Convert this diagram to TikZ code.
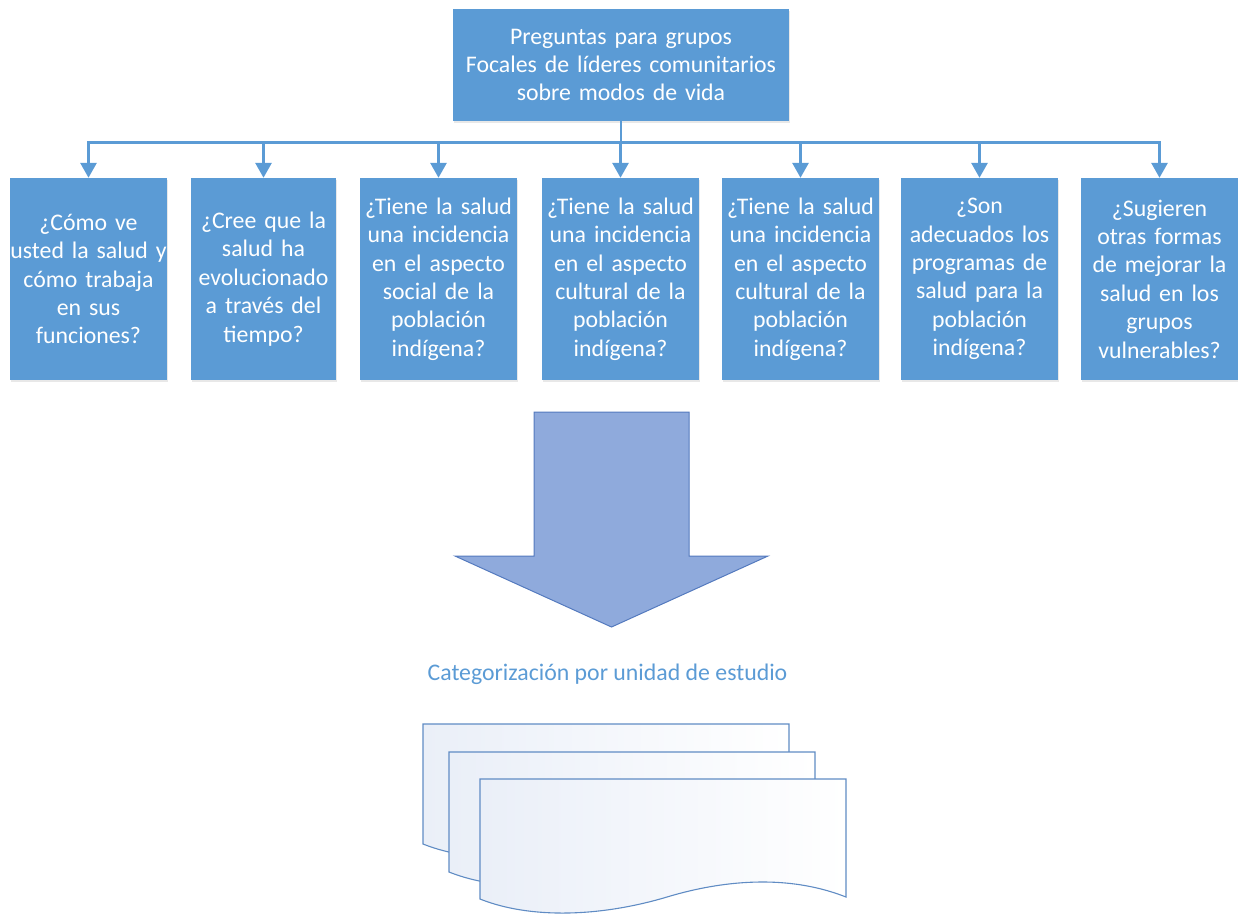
\documentclass[tikz,border=0pt]{standalone}
\usepackage{fontspec}
\setmainfont{Carlito}
\usetikzlibrary{arrows.meta,shadows}

\definecolor{qblue}{RGB}{91,155,213}
\definecolor{arrowfill}{RGB}{143,170,220}
\definecolor{arrowedge}{RGB}{84,122,190}
\definecolor{docedge}{RGB}{96,140,196}
\definecolor{doctint}{RGB}{234,239,248}

\newcommand\qsize{\fontsize{23.8}{28.4}\selectfont}

% one sheet of the stacked document symbol, top-left corner at (#1,#2)
\newcommand\docsheet[2]{%
  \begin{scope}[shift={(#1,#2)}]
    \draw[sheet] (0,0) -- (366,0) -- (366,118)
      .. controls (300,92) and (230,105) .. (187,118)
      .. controls (120,138) and (50,140) .. (0,120) -- cycle;
  \end{scope}}

\tikzset{
  qbox/.style={fill=qblue, text=white, inner sep=0pt, align=center,
    font=\qsize, text width=157pt, minimum height=202pt,
    drop shadow={shadow xshift=1pt, shadow yshift=-2pt, opacity=0.2, fill=black!45}},
  headbox/.style={qbox, text width=336pt, minimum height=112pt},
  conn/.style={draw=qblue, line width=2.9pt,
    -{Triangle[width=16pt,length=15pt]}},
  sheet/.style={draw=docedge, line width=1.1pt, left color=doctint, right color=white},
}

\begin{document}
\begin{tikzpicture}[x=1pt,y=-1pt]
\useasboundingbox (0,0) rectangle (1238,914);

% question boxes
\node[headbox] (top) at (621,65) {Preguntas para grupos\\Focales de líderes comunitarios\\sobre modos de vida};

\node[qbox] (b1) at (88.5,279) {¿Cómo ve\\usted la salud y\\cómo trabaja\\en sus\\funciones?};
\node[qbox, text width=145pt] (b2) at (263.5,279) {¿Cree que la\\salud ha\\evolucionado\\a través del\\tiempo?};
\node[qbox] (b3) at (438.5,279) {¿Tiene la salud\\una incidencia\\en el aspecto\\social de la\\población\\indígena?};
\node[qbox] (b4) at (620.5,279) {¿Tiene la salud\\una incidencia\\en el aspecto\\cultural de la\\población\\indígena?};
\node[qbox] (b5) at (800.5,279) {¿Tiene la salud\\una incidencia\\en el aspecto\\cultural de la\\población\\indígena?};
\node[qbox] (b6) at (979.5,279) {¿Son\\adecuados los\\programas de\\salud para la\\población\\indígena?};
\node[qbox] (b7) at (1159.5,279) {¿Sugieren\\otras formas\\de mejorar la\\salud en los\\grupos\\vulnerables?};

% branching connectors
\foreach \b in {b1,b2,b3,b4,b5,b6,b7}
  \draw[conn] (top.south) -- ++(0,21.7) -| (\b.north);

% large downward block arrow
\draw[fill=arrowfill, draw=arrowedge, line width=1pt, line join=miter]
  (534,412) -- (689,412) -- (689,556) -- (768,556) -- (611.5,627)
  -- (455,556) -- (534,556) -- cycle;

% caption
\node[anchor=base, text=qblue, font=\qsize, inner sep=0pt] (cap) at (607.5,680)
  {Categorización por unidad de estudio};

% stacked documents
\docsheet{423}{724}
\docsheet{449}{752}
\docsheet{480}{779}
\end{tikzpicture}
\end{document}
